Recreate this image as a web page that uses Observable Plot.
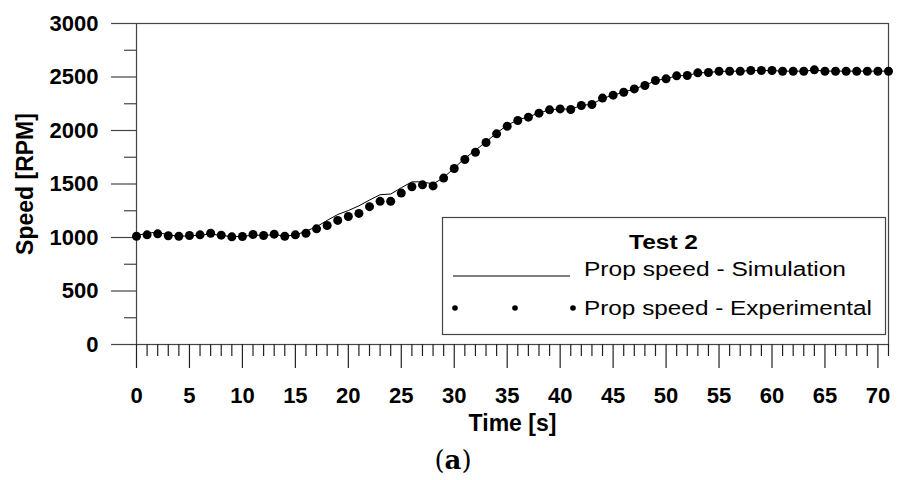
<!DOCTYPE html>
<html><head><meta charset="utf-8">
<script src="https://cdn.jsdelivr.net/npm/d3@7"></script>
<script src="https://cdn.jsdelivr.net/npm/@observablehq/plot@0.6"></script>
<style>
body{margin:0;background:#fff;}
#wrap{position:relative;width:898px;height:440px;}
#legend{position:absolute;left:0;top:0;pointer-events:none;}
#cap{width:898px;height:40px;line-height:40px;text-align:center;font-family:"DejaVu Serif",serif;font-size:26px;padding-left:8px;box-sizing:border-box;color:#000;}
</style></head><body>
<div id="wrap"></div>
<div id="cap">(<b>a</b>)</div>
<script>
const time = [0,1,2,3,4,5,6,7,8,9,10,11,12,13,14,15,16,17,18,19,20,21,22,23,24,25,26,27,28,29,30,31,32,33,34,35,36,37,38,39,40,41,42,43,44,45,46,47,48,49,50,51,52,53,54,55,56,57,58,59,60,61,62,63,64,65,66,67,68,69,70,71];
const simSpeed = [1015,1042,1048,1025,1012,1015,1022,1032,1020,1008,1010,1022,1020,1026,1015,1022,1060,1100,1160,1215,1252,1296,1350,1400,1406,1465,1520,1520,1500,1560,1650,1740,1815,1895,1975,2050,2098,2128,2163,2193,2202,2198,2234,2245,2300,2330,2358,2390,2422,2465,2485,2510,2515,2538,2542,2552,2554,2555,2560,2560,2560,2555,2555,2555,2565,2555,2555,2555,2555,2555,2555,2555];
const expSpeed = [1012,1025,1034,1016,1012,1019,1025,1040,1022,1006,1009,1028,1019,1031,1012,1025,1040,1081,1112,1160,1196,1225,1288,1338,1338,1415,1474,1492,1482,1555,1645,1729,1797,1888,1969,2040,2093,2125,2162,2193,2202,2196,2234,2243,2303,2330,2358,2389,2421,2467,2483,2511,2514,2539,2542,2554,2554,2554,2561,2561,2561,2554,2554,2554,2567,2554,2554,2554,2554,2554,2554,2554];
const xTicks = [0,5,10,15,20,25,30,35,40,45,50,55,60,65,70];
const yTicks = [0,500,1000,1500,2000,2500,3000];
const xLabel = "Time [s]";
const yLabel = "Speed [RPM]";
const legendTitle = "Test 2";
const seriesNames = ["Prop speed - Simulation", "Prop speed - Experimental"];

const sim = time.map((t, i) => ({t, v: simSpeed[i]}));
const exp = time.map((t, i) => ({t, v: expSpeed[i]}));
const xMinor = d3.range(0, 72).filter(d => d % 5 !== 0);
const yMinor = d3.range(250, 3000, 500);
const plain = d3.format("d");

const chart = Plot.plot({
  width: 898, height: 440,
  marginLeft: 136, marginRight: 10, marginTop: 23, marginBottom: 96,
  style: {fontFamily: "'Liberation Sans', Arial, sans-serif", fontSize: "22px", fontWeight: "bold", color: "#000", background: "#fff"},
  x: {domain: [0, 71]},
  y: {domain: [0, 3000]},
  marks: [
    Plot.frame({stroke: "#444", strokeWidth: 1.2}),
    Plot.axisY(yTicks, {tickSize: 25, tickPadding: 13, tickFormat: plain, label: null, stroke: "#444", strokeWidth: 1.2, fill: "#000"}),
    Plot.axisY(yMinor, {tickSize: 12, tickFormat: () => "", label: null, stroke: "#444", strokeWidth: 1.2}),
    Plot.axisX(xTicks, {tickSize: 24, tickPadding: 19, tickFormat: plain, label: null, stroke: "#222", strokeWidth: 1.2, fill: "#000"}),
    Plot.axisX(xMinor, {tickSize: 12, tickFormat: () => "", label: null, stroke: "#222", strokeWidth: 1.2}),
    Plot.text([xLabel], {frameAnchor: "bottom", textAnchor: "middle", lineAnchor: "bottom", dy: 86, fontSize: 23, fill: "#000"}),
    Plot.text([yLabel], {frameAnchor: "left", textAnchor: "middle", lineAnchor: "middle", rotate: -90, dx: -111, fontSize: 23, fill: "#000"}),
    Plot.line(sim, {x: "t", y: "v", stroke: "#000", strokeWidth: 1}),
    Plot.dot(exp, {x: "t", y: "v", r: 4.5, fill: "#000"})
  ]
});
document.getElementById("wrap").appendChild(chart);

// legend overlay
const ns = "http://www.w3.org/2000/svg";
const lg = document.createElementNS(ns, "svg");
lg.setAttribute("id", "legend");
lg.setAttribute("width", 898);
lg.setAttribute("height", 440);
lg.style.fontFamily = "'Liberation Sans', Arial, sans-serif";
function el(tag, attrs, txt) {
  const e = document.createElementNS(ns, tag);
  for (const k in attrs) e.setAttribute(k, attrs[k]);
  if (txt != null) e.textContent = txt;
  lg.appendChild(e);
  return e;
}
el("rect", {x: 442.5, y: 217.5, width: 443, height: 117, fill: "#fff", stroke: "#444", "stroke-width": 1.2});
el("text", {x: 629, y: 249, "font-weight": "bold", "font-size": 20, fill: "#000", textLength: 69, lengthAdjust: "spacingAndGlyphs"}, legendTitle);
el("line", {x1: 453, x2: 570, y1: 276, y2: 276, stroke: "#000", "stroke-width": 1});
el("text", {x: 584, y: 276, "font-size": 20, fill: "#000", textLength: 262, lengthAdjust: "spacingAndGlyphs"}, seriesNames[0]);
[455, 515, 573].forEach(cx => el("circle", {cx, cy: 308, r: 2.8, fill: "#000"}));
el("text", {x: 584, y: 315, "font-size": 20, fill: "#000", textLength: 288, lengthAdjust: "spacingAndGlyphs"}, seriesNames[1]);
document.getElementById("wrap").appendChild(lg);
</script>
</body></html>
